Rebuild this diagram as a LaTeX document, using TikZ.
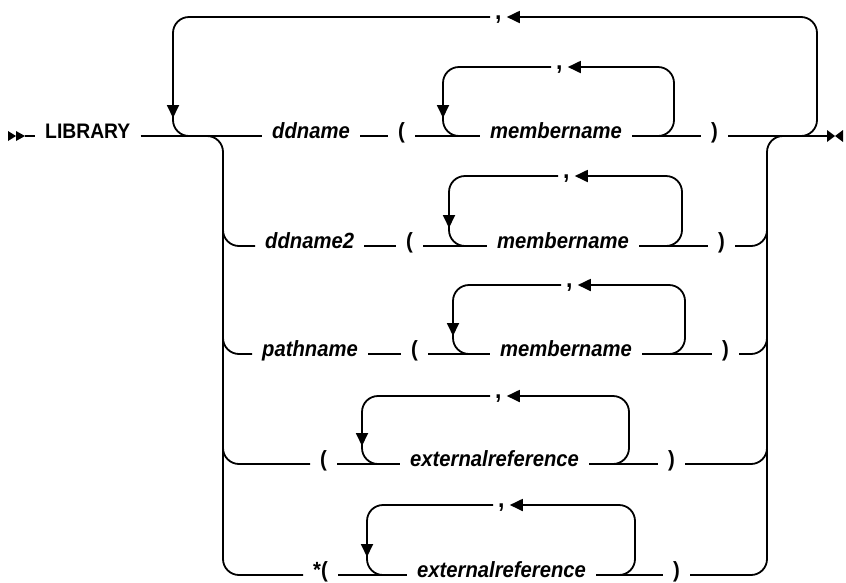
\documentclass[tikz,border=0pt]{standalone}
\usepackage{fontspec}
\setmainfont{Liberation Sans}[FakeStretch=0.92]
\usepackage{xcolor}
\usepackage{tikz}
\usetikzlibrary{calc,positioning,arrows.meta}
\definecolor{ink}{HTML}{000000}

\begin{document}
\begin{tikzpicture}[
  x=1pt, y=-1pt,
  railline/.style={draw=ink, line width=1.8pt},
  roundish/.style={rounded corners=16pt},
  headed/.style={-{Triangle[length=13pt,width=12pt]}},
  wordbox/.style={
    anchor=mid west, inner xsep=10pt, inner ysep=0pt,
    text height=16pt, text depth=5pt, text=ink,
  },
  kwtext/.style={wordbox, font=\fontsize{21}{25}\selectfont\bfseries},
  vartext/.style={wordbox, font=\fontsize{22}{26}\selectfont\bfseries\itshape},
  symtext/.style={wordbox, font=\fontsize{22}{26}\selectfont\bfseries},
  commatext/.style={wordbox, inner xsep=5pt, font=\fontsize{25}{29}\selectfont\bfseries},
]

\useasboundingbox (0,0) rectangle (846,582);

% begin and end marks
\coordinate (begin) at (25,136);
\coordinate (finish) at (827,136);
\fill[ink] (8,131) -- (16,136) -- (8,141) -- cycle (16,131) -- (25,136) -- (16,141) -- cycle;
\fill[ink] (827,130) -- (835,136) -- (827,142) -- cycle (843,130) -- (835,136) -- (843,142) -- cycle;

% row 1
\node[kwtext] (library) at (35,136) {LIBRARY};
\node[vartext] (ddname) at (262,136) {ddname};
\node[symtext] (lpone) at (388,136) {(};
\node[vartext] (memone) at (480,136) {membername};
\node[symtext] (rpone) at (701,136) {)};

% row 2
\node[vartext] (ddtwo) at (255,246) {ddname2};
\node[symtext] (lptwo) at (396,246) {(};
\node[vartext] (memtwo) at (487,246) {membername};
\node[symtext] (rptwo) at (708,246) {)};

% row 3
\node[vartext] (pathname) at (252,354) {pathname};
\node[symtext] (lpthree) at (401,354) {(};
\node[vartext] (memthree) at (490,354) {membername};
\node[symtext] (rpthree) at (712,354) {)};

% row 4
\node[symtext] (lpfour) at (310,464) {(};
\node[vartext] (extfour) at (400,464) {externalreference};
\node[symtext] (rpfour) at (658,464) {)};

% row 5
\node[symtext] (star) at (303,575) {*(};
\node[vartext] (extfive) at (407,575) {externalreference};
\node[symtext] (rpfive) at (663,575) {)};

% repeat separators
\node[commatext] (ctop) at (490,17) {,};
\node[commatext] (cone) at (551,67) {,};
\node[commatext] (ctwo) at (558,176) {,};
\node[commatext] (cthree) at (561,285) {,};
\node[commatext] (cfour) at (490,396) {,};
\node[commatext] (cfive) at (493,505) {,};

% join points
\coordinate (brL) at (223,136);
\coordinate (brR) at (767,136);
\coordinate (outL) at (173,136);
\coordinate (outR) at (817,136);
\coordinate (inLone) at (443,136);
\coordinate (inRone) at (674,136);
\coordinate (inLtwo) at (449,246);
\coordinate (inRtwo) at (682,246);
\coordinate (inLthree) at (453,354);
\coordinate (inRthree) at (685,354);
\coordinate (inLfour) at (362,464);
\coordinate (inRfour) at (629,464);
\coordinate (inLfive) at (367,575);
\coordinate (inRfive) at (635,575);

% main line
\draw[railline] (begin) -- (library.mid west);
\draw[railline] (library.mid east) -- (ddname.mid west);
\draw[railline] (ddname.mid east) -- (lpone.mid west);
\draw[railline] (lpone.mid east) -- (memone.mid west);
\draw[railline] (memone.mid east) -- (rpone.mid west);
\draw[railline] (rpone.mid east) -- (finish);

% other rows
\draw[railline] (ddtwo.mid east) -- (lptwo.mid west);
\draw[railline] (lptwo.mid east) -- (memtwo.mid west);
\draw[railline] (memtwo.mid east) -- (rptwo.mid west);
\draw[railline] (pathname.mid east) -- (lpthree.mid west);
\draw[railline] (lpthree.mid east) -- (memthree.mid west);
\draw[railline] (memthree.mid east) -- (rpthree.mid west);
\draw[railline] (lpfour.mid east) -- (extfour.mid west);
\draw[railline] (extfour.mid east) -- (rpfour.mid west);
\draw[railline] (star.mid east) -- (extfive.mid west);
\draw[railline] (extfive.mid east) -- (rpfive.mid west);

% choice branches
\draw[railline, roundish] ($(brL)+(-20,0)$) -| (star.mid west -| brL) -- (star.mid west);
\draw[railline, roundish] ($(ddtwo.mid west -| brL)+(0,-20)$) |- (ddtwo.mid west);
\draw[railline, roundish] ($(pathname.mid west -| brL)+(0,-20)$) |- (pathname.mid west);
\draw[railline, roundish] ($(lpfour.mid west -| brL)+(0,-20)$) |- (lpfour.mid west);
\draw[railline, roundish] (rpfive.mid east) -| (brR) -- ($(brR)+(20,0)$);
\draw[railline, roundish] (rptwo.mid east) -| ($(rptwo.mid east -| brR)+(0,-20)$);
\draw[railline, roundish] (rpthree.mid east) -| ($(rpthree.mid east -| brR)+(0,-20)$);
\draw[railline, roundish] (rpfour.mid east) -| ($(rpfour.mid east -| brR)+(0,-20)$);

% outer repeat
\draw[railline, roundish, headed] ($(outR)+(-30,0)$) -| (ctop.mid east -| outR) -- (ctop.mid east);
\draw[railline, roundish, headed] (ctop.mid west) -| ($(outL)+(0,-18)$);
\draw[railline, roundish] ($(outL)+(0,-22)$) |- ($(outL)+(30,0)$);

% inner repeats
\draw[railline, roundish, headed] ($(inRone)+(-30,0)$) -| (cone.mid east -| inRone) -- (cone.mid east);
\draw[railline, roundish, headed] (cone.mid west) -| ($(inLone)+(0,-18)$);
\draw[railline, roundish] ($(inLone)+(0,-22)$) |- ($(inLone)+(30,0)$);

\draw[railline, roundish, headed] ($(inRtwo)+(-30,0)$) -| (ctwo.mid east -| inRtwo) -- (ctwo.mid east);
\draw[railline, roundish, headed] (ctwo.mid west) -| ($(inLtwo)+(0,-18)$);
\draw[railline, roundish] ($(inLtwo)+(0,-22)$) |- ($(inLtwo)+(30,0)$);

\draw[railline, roundish, headed] ($(inRthree)+(-30,0)$) -| (cthree.mid east -| inRthree) -- (cthree.mid east);
\draw[railline, roundish, headed] (cthree.mid west) -| ($(inLthree)+(0,-18)$);
\draw[railline, roundish] ($(inLthree)+(0,-22)$) |- ($(inLthree)+(30,0)$);

\draw[railline, roundish, headed] ($(inRfour)+(-30,0)$) -| (cfour.mid east -| inRfour) -- (cfour.mid east);
\draw[railline, roundish, headed] (cfour.mid west) -| ($(inLfour)+(0,-18)$);
\draw[railline, roundish] ($(inLfour)+(0,-22)$) |- ($(inLfour)+(30,0)$);

\draw[railline, roundish, headed] ($(inRfive)+(-30,0)$) -| (cfive.mid east -| inRfive) -- (cfive.mid east);
\draw[railline, roundish, headed] (cfive.mid west) -| ($(inLfive)+(0,-18)$);
\draw[railline, roundish] ($(inLfive)+(0,-22)$) |- ($(inLfive)+(30,0)$);

\end{tikzpicture}
\end{document}
